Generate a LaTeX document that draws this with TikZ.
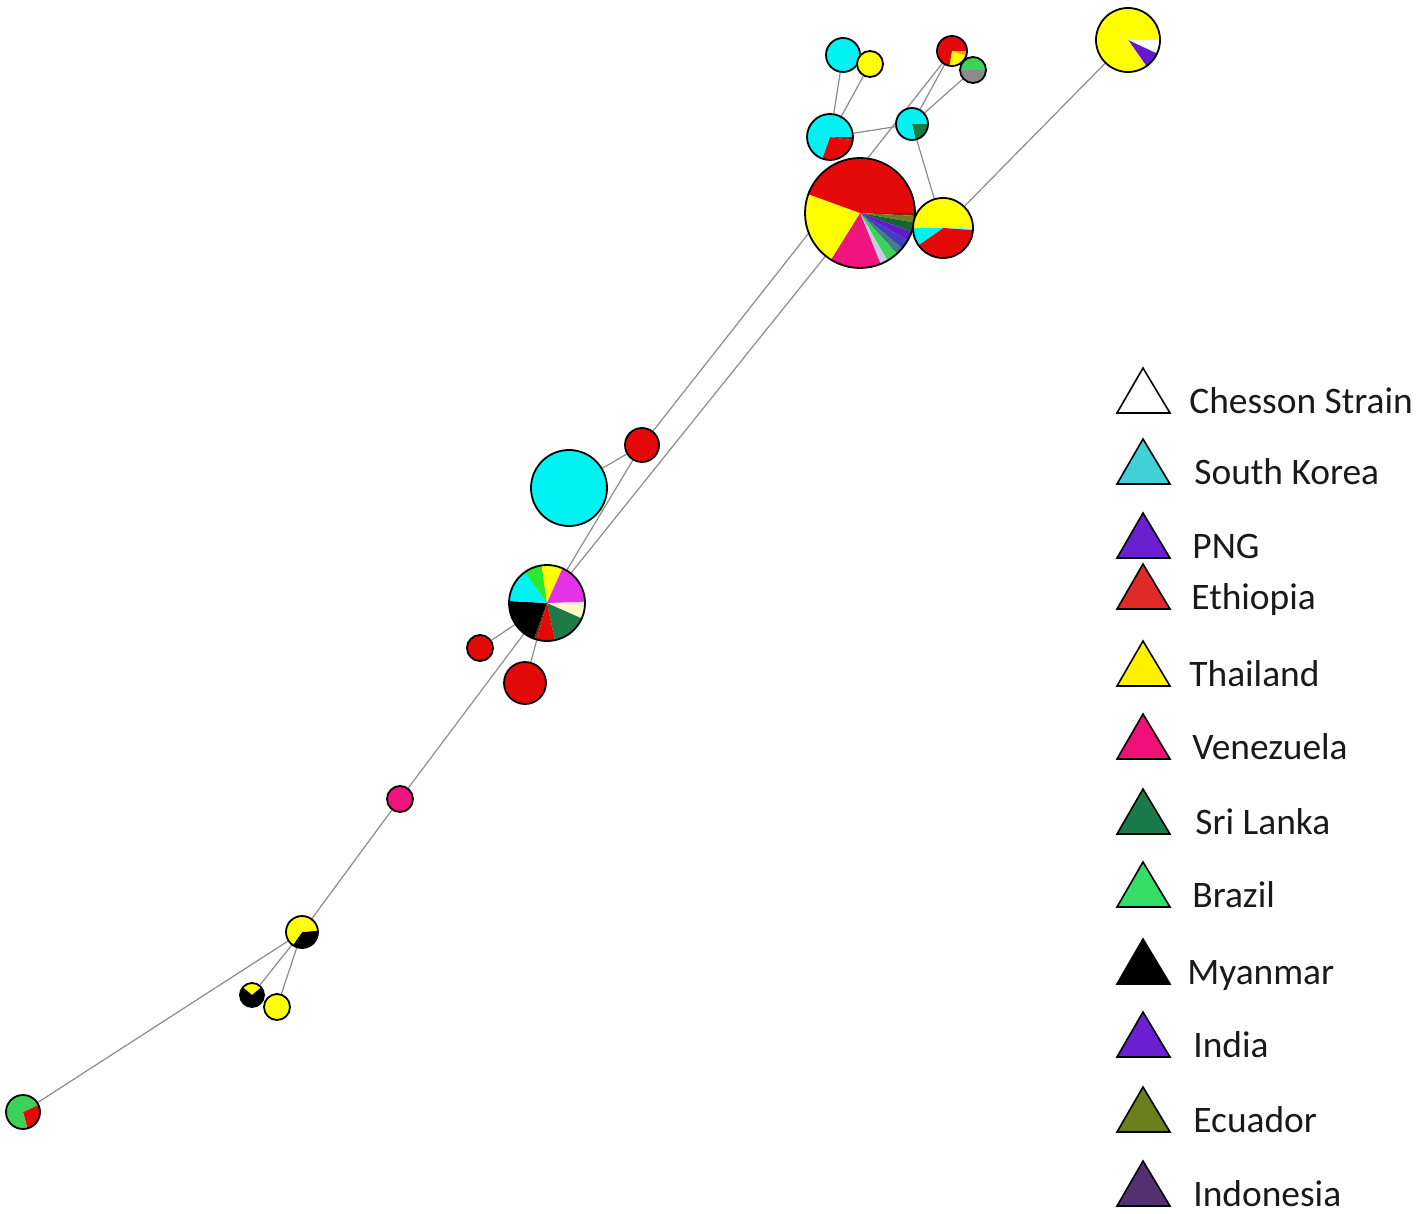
\documentclass[tikz,border=0pt]{standalone}
\usepackage{fontspec}
\setmainfont{Carlito}
\usetikzlibrary{backgrounds}
\definecolor{kcyan}{HTML}{00F2F2}
\definecolor{kred}{HTML}{E40A0A}
\definecolor{kyellow}{HTML}{FFFF00}
\definecolor{kpink}{HTML}{F0147E}
\definecolor{kdkgreen}{HTML}{1E7A46}
\definecolor{kgreen}{HTML}{3CD25A}
\definecolor{kmgreen}{HTML}{2EE82E}
\definecolor{kmagenta}{HTML}{E632E6}
\definecolor{kpurple}{HTML}{6419CC}
\definecolor{kolive}{HTML}{6E7D1E}
\definecolor{kgrey}{HTML}{8C8C8C}
\definecolor{kbrown}{HTML}{7A2A10}
\definecolor{korange}{HTML}{FFA000}
% legend colours
\definecolor{lskorea}{HTML}{40D0D6}
\definecolor{lpng}{HTML}{6A1FD0}
\definecolor{leth}{HTML}{E02A2A}
\definecolor{lthai}{HTML}{FFF200}
\definecolor{lven}{HTML}{F0107A}
\definecolor{lsri}{HTML}{1A7A4A}
\definecolor{lbra}{HTML}{33DD66}
\definecolor{lecu}{HTML}{6B7F1F}
\definecolor{lindo}{HTML}{553070}
\tikzset{
  hapnode/.style={circle, draw=black, line width=0.9pt, inner sep=0pt},
  hapedge/.style={draw=black!45, line width=0.6pt},
  legtri/.style={draw=black, line width=0.8pt, line join=miter},
  legtext/.style={font=\fontsize{18.7}{22}\selectfont, text=black!90,
                  inner sep=0pt, anchor=base west},
}
% haplotype pie: name, x, y, radius (px), slices start/end/colour (clockwise angles)
\newcommand{\hap}[5]{%
  \foreach \sa/\sb/\sc in {#5}
    \fill[\sc] (#2,#3) -- ++(\sa:#4) arc[start angle=\sa, end angle=\sb, radius=#4] -- cycle;
  \node[hapnode, minimum size=#4pt] (#1) at (#2,#3) {};
}

\begin{document}
\begin{tikzpicture}[x=0.5pt, y=-0.5pt]
  \useasboundingbox (0,0) rectangle (1418,1214);

  %% top cluster
  \hap{topR}{1128}{40}{32}{0/25/white, 25/55/kpurple, 55/360/kyellow}
  \hap{cyanT}{843}{55}{17}{0/360/kcyan}
  \hap{yelS}{870}{64}{13}{0/360/kyellow}
  \hap{redYT}{952}{51}{15}{0/20/korange, 20/100/kyellow, 100/360/kred}
  \hap{greyG}{973}{70}{13}{0/180/kgrey, 180/360/kgreen}
  \hap{cyanRL}{830}{137}{23}{0/8/kbrown, 8/110/kred, 110/360/kcyan}
  \hap{cyanDG}{912}{124}{16}{0/78/kdkgreen, 78/360/kcyan}
  \hap{big}{860}{213}{55}{0/3/kbrown, 3/10/kolive, 10/20/kdkgreen!80!black,
    20/30/kpurple, 30/40/blue!50!gray, 40/48/teal!50!gray, 48/60/kgreen,
    60/68/gray!60!blue!30, 68/122/kpink, 122/200/kyellow, 200/360/kred}
  \hap{rightYR}{943}{228}{30}{0/4/kcyan!50, 4/145/kred, 145/180/kcyan, 180/360/kyellow}

  %% middle part
  \hap{redTop}{642}{445}{17}{0/360/kred}
  \hap{cyanBig}{569}{488}{38}{0/360/kcyan}
  \hap{multi}{547}{603}{38}{-2/5/pink!40, 5/24/yellow!25, 24/78/kdkgreen, 78/106/kred,
    106/110/kbrown, 110/183/black, 183/235/kcyan, 235/262/kmgreen,
    262/294/kyellow, 294/358/kmagenta}
  \hap{redSL}{480}{648}{13}{0/360/kred}
  \hap{redB}{525}{683}{21}{0/360/kred}
  \hap{pink}{400}{799}{13}{0/360/kpink}

  %% lower part
  \hap{yb}{302}{932}{16}{-5/125/black, 125/355/kyellow}
  \hap{ybS}{252}{995}{12}{220/320/kyellow, -40/220/black}
  \hap{yS}{277}{1007}{13}{0/360/kyellow}
  \hap{gr}{23}{1112}{17}{-25/75/kred, 75/335/kgreen}

  %% connectors behind the pies
  \begin{scope}[on background layer]
    \draw[hapedge] (topR) -- (rightYR);
    \draw[hapedge] (redYT) -- (redTop);
    \draw[hapedge] (redYT) -- (cyanDG);
    \draw[hapedge] (greyG) -- (cyanDG);
    \draw[hapedge] (cyanDG) -- (cyanRL);
    \draw[hapedge] (cyanDG) -- (rightYR);
    \draw[hapedge] (cyanT) -- (cyanRL);
    \draw[hapedge] (yelS) -- (cyanRL);
    \draw[hapedge] (big) -- (multi);
    \draw[hapedge] (redTop) -- (cyanBig);
    \draw[hapedge] (redTop) -- (multi);
    \draw[hapedge] (multi) -- (redSL);
    \draw[hapedge] (multi) -- (redB);
    \draw[hapedge] (multi) -- (pink);
    \draw[hapedge] (pink) -- (yb);
    \draw[hapedge] (yb) -- (gr);
    \draw[hapedge] (yb) -- (ybS);
    \draw[hapedge] (yb) -- (yS);
  \end{scope}

  %% legend
  \foreach \name/\col/\yb/\xt [count=\i] in {
      Chesson Strain/white/413/1189, South Korea/lskorea/484/1194,
      PNG/lpng/558/1192, Ethiopia/leth/609/1191, Thailand/lthai/686/1189,
      Venezuela/lven/759/1192, Sri Lanka/lsri/834/1195, Brazil/lbra/907/1192,
      Myanmar/black/984/1187, India/lpng/1057/1193, Ecuador/lecu/1132/1193,
      Indonesia/lindo/1206/1193} {
    \filldraw[legtri, fill=\col] (1117,\yb) -- (1143,\yb-45) -- (1170,\yb) -- cycle;
    \node[legtext] (lg\i) at (\xt,\yb) {\name};
  }

\end{tikzpicture}
\end{document}
